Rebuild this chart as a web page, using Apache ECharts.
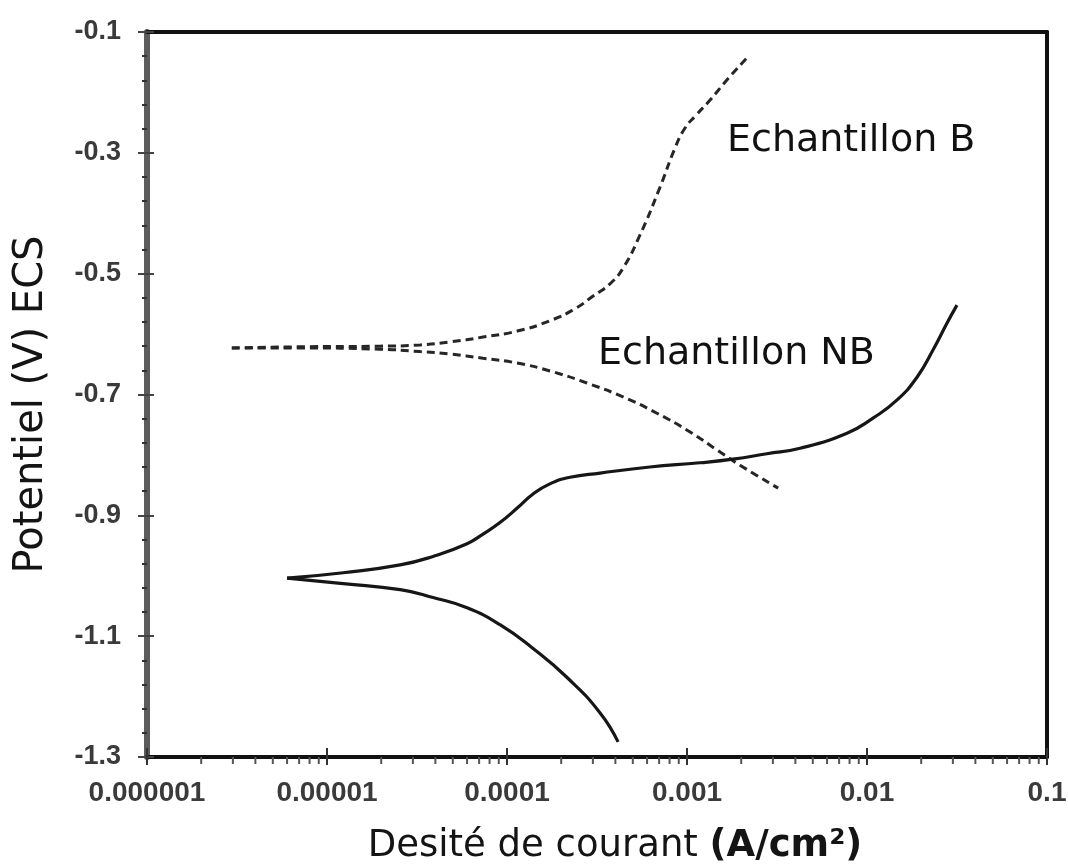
<!DOCTYPE html>
<html>
<head>
<meta charset="utf-8">
<title>Courbes de polarisation</title>
<script src="https://cdn.jsdelivr.net/npm/echarts@6/dist/echarts.min.js"></script>
<style>
  html, body { margin: 0; padding: 0; background: #ffffff; }
  #chart { width: 1068px; height: 865px; }
</style>
</head>
<body>
<div id="chart"></div>
<script>
// Axis ranges and tick labels
const X_MIN = 1e-6;
const X_MAX = 0.1;
const Y_MIN = -1.3;
const Y_MAX = -0.1;
const Y_STEP = 0.2;
const xTickLabels = ['0.000001', '0.00001', '0.0001', '0.001', '0.01', '0.1'];
// Minor log ticks (2..9 in each decade)
const xMinorTicks = [
  2e-6, 3e-6, 4e-6, 5e-6, 6e-6, 7e-6, 8e-6, 9e-6,
  2e-5, 3e-5, 4e-5, 5e-5, 6e-5, 7e-5, 8e-5, 9e-5,
  2e-4, 3e-4, 4e-4, 5e-4, 6e-4, 7e-4, 8e-4, 9e-4,
  2e-3, 3e-3, 4e-3, 5e-3, 6e-3, 7e-3, 8e-3, 9e-3,
  2e-2, 3e-2, 4e-2, 5e-2, 6e-2, 7e-2, 8e-2, 9e-2
];

// Echantillon B (dashed): current density (A/cm²) and potential (V/ECS)
const bAnodicI = [2.96e-6, 7.08e-6, 1.97e-5, 3.29e-5, 4.82e-5, 7.36e-5, 1.14e-4, 1.73e-4, 2.39e-4, 3.01e-4, 3.73e-4, 4.41e-4, 5.48e-4, 7.08e-4, 8.58e-4, 9.75e-4, 1.12e-3, 1.34e-3, 1.67e-3, 2.15e-3];
const bAnodicE = [-0.623, -0.621, -0.620, -0.618, -0.613, -0.605, -0.595, -0.578, -0.558, -0.537, -0.517, -0.491, -0.436, -0.357, -0.292, -0.259, -0.238, -0.213, -0.179, -0.143];
const bCathodicI = [2.96e-6, 7.08e-6, 1.97e-5, 3.29e-5, 4.82e-5, 7.36e-5, 1.14e-4, 1.73e-4, 2.78e-4, 4.41e-4, 6.81e-4, 1.04e-3, 1.47e-3, 1.97e-3, 3.21e-3];
const bCathodicE = [-0.623, -0.623, -0.625, -0.629, -0.633, -0.640, -0.648, -0.661, -0.681, -0.704, -0.731, -0.762, -0.792, -0.817, -0.855];

// Echantillon NB (solid)
const nbAnodicI = [6.00e-6, 1.23e-5, 2.55e-5, 3.88e-5, 6.00e-5, 7.36e-5, 9.14e-5, 1.14e-4, 1.39e-4, 1.73e-4, 2.24e-4, 3.29e-4, 6.22e-4, 1.18e-3, 1.80e-3, 2.78e-3, 4.25e-3, 7.74e-3, 1.08e-2, 1.47e-2, 1.90e-2, 2.33e-2, 2.78e-2, 3.16e-2];
const nbAnodicE = [-1.004, -0.995, -0.982, -0.968, -0.947, -0.931, -0.912, -0.888, -0.865, -0.848, -0.837, -0.830, -0.820, -0.813, -0.807, -0.798, -0.789, -0.764, -0.739, -0.709, -0.671, -0.626, -0.582, -0.552];
const nbCathodicI = [6.00e-6, 1.23e-5, 2.55e-5, 3.88e-5, 6.00e-5, 9.14e-5, 1.39e-4, 2.15e-4, 3.29e-4, 4.14e-4];
const nbCathodicE = [-1.004, -1.013, -1.023, -1.036, -1.053, -1.081, -1.120, -1.168, -1.227, -1.275];

const pairs = (xs, ys) => xs.map((x, i) => [x, ys[i]]);

const TEXT_FONT = '"DejaVu Sans", "Noto Sans", sans-serif';
const TICK_FONT = '"Liberation Sans", Arial, sans-serif';

const chart = echarts.init(document.getElementById('chart'), null, { renderer: 'canvas' });

const logOpts = { type: 'log', logBase: 10, min: X_MIN, max: X_MAX, gridIndex: 0 };
const valOpts = { type: 'value', min: Y_MIN, max: Y_MAX, interval: Y_STEP, gridIndex: 0 };

function curve(name, xs, ys, dashed) {
  return {
    name: name,
    type: 'line',
    xAxisIndex: 0,
    yAxisIndex: 0,
    data: pairs(xs, ys),
    showSymbol: false,
    symbol: 'none',
    smooth: 0.5,
    animation: false,
    lineStyle: {
      color: dashed ? '#262626' : '#161616',
      width: dashed ? 3 : 3.2,
      type: dashed ? [8, 5] : 'solid',
      cap: 'butt'
    },
    z: 3
  };
}

const option = {
  backgroundColor: '#ffffff',
  animation: false,
  grid: { left: 147, right: 21, top: 32, bottom: 108, containLabel: false, outerBoundsMode: 'none' },
  xAxis: [
    Object.assign({}, logOpts, {
      position: 'bottom',
      name: '{n|Desité de courant }{b|(A/cm²)}',
      nameLocation: 'middle',
      nameGap: 71,
      nameTextStyle: {
        padding: [0, 0, 0, 36],
        rich: {
          n: { fontFamily: TEXT_FONT, fontSize: 37, color: '#141414' },
          b: { fontFamily: TEXT_FONT, fontSize: 37, fontWeight: 'bold', color: '#141414' }
        }
      },
      axisLine: { show: true, lineStyle: { color: '#111', width: 4 } },
      axisTick: { show: true, inside: false, length: 8, lineStyle: { color: '#333', width: 2 } },
      axisLabel: {
        margin: 22,
        fontFamily: TICK_FONT,
        fontWeight: 'bold',
        fontSize: 28,
        color: '#3a3a3a',
        formatter: (v) => xTickLabels[Math.round(Math.log10(v) - Math.log10(X_MIN))] || ''
      },
      splitLine: { show: false }
    }),
    Object.assign({}, logOpts, {
      position: 'bottom',
      axisLine: { show: false },
      axisTick: { show: true, inside: true, length: 9, lineStyle: { color: '#333', width: 2 } },
      axisLabel: { show: false },
      splitLine: { show: false }
    }),
    Object.assign({}, logOpts, {
      position: 'top',
      axisLine: { show: true, lineStyle: { color: '#111', width: 4 } },
      axisTick: { show: false },
      axisLabel: { show: false },
      splitLine: { show: false }
    })
  ],
  yAxis: [
    Object.assign({}, valOpts, {
      position: 'left',
      name: 'Potentiel (V) ECS',
      nameLocation: 'middle',
      nameGap: 95,
      nameTextStyle: { fontFamily: TEXT_FONT, fontSize: 40, color: '#141414', padding: [0, 20, 0, 0] },
      axisLine: { show: true, lineStyle: { color: '#5c5c5c', width: 6 } },
      axisTick: { show: true, inside: false, length: 9, lineStyle: { color: '#444', width: 2 } },
      minorTick: { show: true, splitNumber: 5, length: 5, lineStyle: { color: '#333', width: 2 } },
      axisLabel: {
        margin: 26,
        fontFamily: TICK_FONT,
        fontWeight: 'bold',
        fontSize: 27,
        color: '#3a3a3a',
        formatter: (v) => v.toFixed(1)
      },
      splitLine: { show: false }
    }),
    Object.assign({}, valOpts, {
      position: 'left',
      axisLine: { show: false },
      axisTick: { show: true, inside: true, length: 7, lineStyle: { color: '#444', width: 2 } },
      axisLabel: { show: false },
      splitLine: { show: false }
    }),
    Object.assign({}, valOpts, {
      position: 'right',
      axisLine: { show: true, lineStyle: { color: '#111', width: 4 } },
      axisTick: { show: false },
      axisLabel: { show: false },
      splitLine: { show: false }
    })
  ],
  graphic: [
    {
      type: 'text',
      left: 727,
      top: 122,
      style: { text: 'Echantillon B', font: '38px ' + TEXT_FONT, fill: '#111' },
      z: 10
    },
    {
      type: 'text',
      left: 598,
      top: 335,
      style: { text: 'Echantillon NB', font: '38px ' + TEXT_FONT, fill: '#111' },
      z: 10
    }
  ],
  series: [
    curve('Echantillon B (anodique)', bAnodicI, bAnodicE, true),
    curve('Echantillon B (cathodique)', bCathodicI, bCathodicE, true),
    curve('Echantillon NB (anodique)', nbAnodicI, nbAnodicE, false),
    curve('Echantillon NB (cathodique)', nbCathodicI, nbCathodicE, false),
    {
      // minor ticks of the logarithmic current axis
      type: 'custom',
      xAxisIndex: 0,
      yAxisIndex: 0,
      clip: false,
      silent: true,
      data: xMinorTicks.map((v) => [v, Y_MIN]),
      renderItem: function (params, api) {
        const p = api.coord([api.value(0), api.value(1)]);
        return {
          type: 'line',
          shape: { x1: p[0], y1: p[1], x2: p[0], y2: p[1] + 7 },
          style: { stroke: '#555', lineWidth: 2 }
        };
      },
      z: 4
    }
  ]
};

chart.setOption(option);
</script>
</body>
</html>
